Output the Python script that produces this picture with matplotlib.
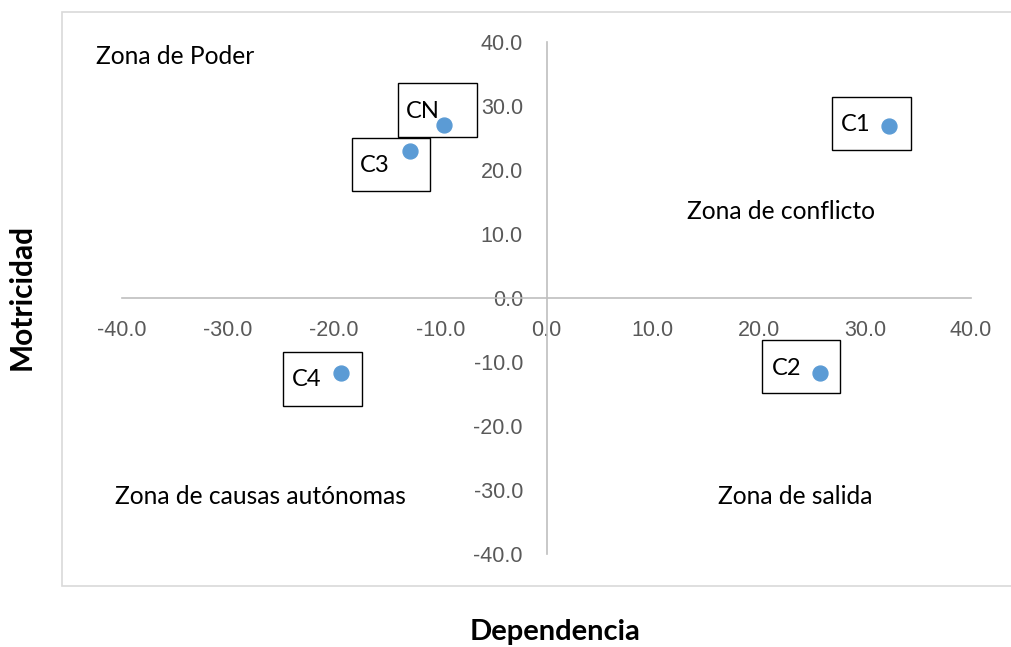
import matplotlib.pyplot as plt
import matplotlib.transforms as mtransforms
from matplotlib.patches import Rectangle

# data
labels = ["CN", "C3", "C1", "C2", "C4"]
dependencia = [-9.7, -12.9, 32.3, 25.8, -19.4]
motricidad = [27.0, 23.0, 26.9, -11.7, -11.7]
ticks = [-40, -30, -20, -10, 0, 10, 20, 30, 40]

# label box layout, in pixels relative to the point: (left, right, bottom, top, text dx, text dy)
box_layout = {
    "CN": (-46, 33, -12, 42, -21, 14),
    "C3": (-58, 20, -40, 13, -35, -15),
    "C1": (-57, 22, -24, 29, -34, 1),
    "C2": (-58, 20, -20, 33, -34, 4),
    "C4": (-58, 21, -33, 21, -34, -7),
}

W, H = 1011, 647
plt.rcParams["font.family"] = ["Lato", "DejaVu Sans"]
fig = plt.figure(figsize=(W / 100, H / 100), dpi=100)

# outer chart frame
fig.patches.append(Rectangle((62 / W, 1 - 586 / H), (W - 61) / W, (586 - 12) / H,
                             transform=fig.transFigure, fill=False,
                             edgecolor="#d9d9d9", linewidth=1.2))

ax = fig.add_axes([122 / W, 1 - 554 / H, 849 / W, (554 - 42) / H])
ax.set_xlim(-40, 40)
ax.set_ylim(-40, 40)
ax.patch.set_visible(False)

for side in ["top", "right"]:
    ax.spines[side].set_visible(False)
ax.spines["left"].set_position(("data", 0))
ax.spines["bottom"].set_position(("data", 0))
for side in ["left", "bottom"]:
    ax.spines[side].set_color("#bfbfbf")
    ax.spines[side].set_linewidth(1.2)

ax.set_xticks(ticks)
ax.set_yticks(ticks)
ax.set_xticklabels([f"{t:.1f}" for t in ticks])
ax.set_yticklabels([f"{t:.1f}" for t in ticks])
ax.tick_params(axis="both", length=0, labelsize=15.5, labelcolor="#595959")
for lbl in ax.get_xticklabels() + ax.get_yticklabels():
    lbl.set_family(["Liberation Sans", "DejaVu Sans"])
ax.tick_params(axis="x", pad=16)
ax.tick_params(axis="y", pad=17)

ax.scatter(dependencia, motricidad, s=115, color="#5b9bd5", zorder=3, clip_on=False)

for lab, x, y in zip(labels, dependencia, motricidad):
    l, r, b, t, tx, ty = box_layout[lab]
    trans = fig.dpi_scale_trans + mtransforms.ScaledTranslation(x, y, ax.transData)
    ax.add_patch(Rectangle((l / 100, b / 100), (r - l) / 100, (t - b) / 100,
                           transform=trans, fill=False, edgecolor="black",
                           linewidth=1.0, clip_on=False, zorder=2))
    ax.text(tx / 100, ty / 100, lab, transform=trans, ha="center", va="center",
            fontsize=17, color="black", zorder=4)

zone_text = dict(fontsize=17.7, color="black", va="center", ha="left")
fig.text(96 / W, 1 - 57 / H, "Zona de Poder", **zone_text)
fig.text(687 / W, 1 - 211 / H, "Zona de conflicto", **zone_text)
fig.text(115 / W, 1 - 497 / H, "Zona de causas autónomas", **zone_text)
fig.text(718 / W, 1 - 497 / H, "Zona de salida", **zone_text)

fig.text(555 / W, 1 - 632 / H, "Dependencia", fontsize=21, fontweight="bold",
         ha="center", va="center")
fig.text(22 / W, 1 - 297 / H, "Motricidad", fontsize=21.5, fontweight="bold",
         ha="center", va="center", rotation=90)

fig.savefig("out.png", dpi=100)
